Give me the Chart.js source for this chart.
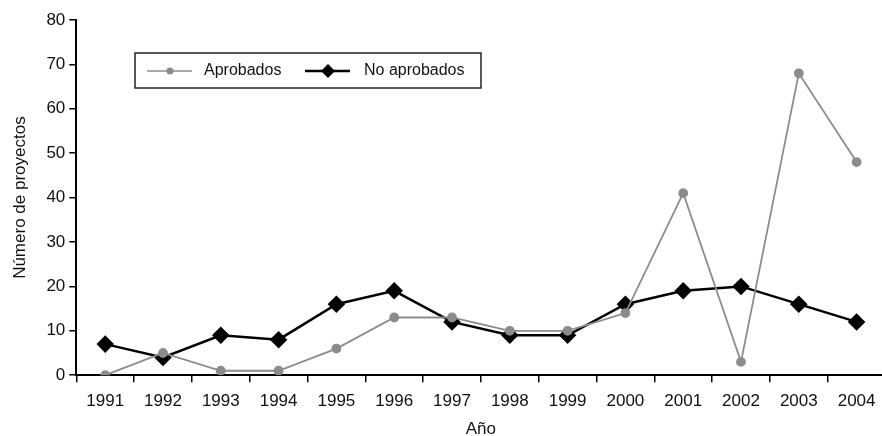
<!DOCTYPE html>
<html>
<head>
<meta charset="utf-8">
<script src="https://cdn.jsdelivr.net/npm/chart.js@4.4.1/dist/chart.umd.min.js"></script>
<style>
  html, body { margin: 0; padding: 0; background: #fff; overflow: hidden; }
  #wrap { width: 895px; height: 440px; position: relative; }
</style>
</head>
<body>
<div id="wrap"><canvas id="chart"></canvas></div>
<script>
const years = ['1991','1992','1993','1994','1995','1996','1997','1998','1999','2000','2001','2002','2003','2004'];
const aprobados = [0, 5, 1, 1, 6, 13, 13, 10, 10, 14, 41, 3, 68, 48];
const noAprobados = [7, 4, 9, 8, 16, 19, 12, 9, 9, 16, 19, 20, 16, 12];
const yTicks = [0, 10, 20, 30, 40, 50, 60, 70, 80];

const FONT = "'Liberation Sans', Arial, sans-serif";
const GRAY = '#8c8c8c';

// Legend box drawn inside the plot area
const boxLegend = {
    id: 'boxLegend',
    afterDraw(chart) {
        const ctx = chart.ctx;
        ctx.save();
        ctx.strokeStyle = '#222';
        ctx.lineWidth = 1.5;
        ctx.strokeRect(135, 53, 346, 35);

        // Aprobados
        ctx.strokeStyle = GRAY;
        ctx.lineWidth = 1.5;
        ctx.beginPath(); ctx.moveTo(147, 71); ctx.lineTo(192, 71); ctx.stroke();
        ctx.fillStyle = GRAY;
        ctx.beginPath(); ctx.arc(170, 71, 3.5, 0, Math.PI * 2); ctx.fill();

        // No aprobados
        ctx.strokeStyle = '#000';
        ctx.lineWidth = 2.5;
        ctx.beginPath(); ctx.moveTo(305, 71); ctx.lineTo(350, 71); ctx.stroke();
        ctx.fillStyle = '#000';
        ctx.beginPath();
        ctx.moveTo(328, 64); ctx.lineTo(335, 71); ctx.lineTo(328, 78); ctx.lineTo(321, 71);
        ctx.closePath(); ctx.fill();

        ctx.fillStyle = '#111';
        ctx.font = '16px ' + FONT;
        ctx.textBaseline = 'middle';
        ctx.fillText('Aprobados', 204, 71);
        ctx.fillText('No aprobados', 364, 71);
        ctx.restore();
    }
};

new Chart(document.getElementById('chart'), {
    type: 'line',
    data: {
        labels: years,
        datasets: [{
            label: 'Aprobados',
            data: aprobados,
            borderColor: GRAY,
            backgroundColor: GRAY,
            borderWidth: 1.8,
            pointStyle: 'circle',
            pointRadius: 4,
            tension: 0
        }, {
            label: 'No aprobados',
            data: noAprobados,
            borderColor: '#000',
            backgroundColor: '#000',
            borderWidth: 2.5,
            pointStyle: 'rectRot',
            pointRadius: 7,
            tension: 0
        }]
    },
    options: {
        responsive: true,
        maintainAspectRatio: false,
        animation: false,
        layout: { padding: { top: 20, right: 0, bottom: 0, left: 10 } },
        plugins: {
            legend: { display: false },
            tooltip: { enabled: false }
        },
        scales: {
            x: {
                offset: true,
                grid: { offset: true, drawOnChartArea: false, drawTicks: true, tickLength: 7, color: '#000', lineWidth: 1.5 },
                border: { color: '#000', width: 2 },
                ticks: { color: '#111', font: { family: FONT, size: 17 }, maxRotation: 0, padding: 9 },
                title: { display: true, text: 'Año', color: '#111', font: { family: FONT, size: 17 }, padding: { top: -1, bottom: 0 } }
            },
            y: {
                min: 0,
                max: 80,
                afterBuildTicks(axis) { axis.ticks = yTicks.map(v => ({ value: v })); },
                grid: { drawOnChartArea: false, drawTicks: true, tickLength: 7, color: '#000', lineWidth: 1.5 },
                border: { color: '#000', width: 2 },
                ticks: { color: '#111', font: { family: FONT, size: 17 }, padding: 4 },
                title: { display: true, text: 'Número de proyectos', color: '#111', font: { family: FONT, size: 17 }, padding: { top: 0, bottom: 12 } }
            }
        }
    },
    plugins: [boxLegend]
});
</script>
</body>
</html>
